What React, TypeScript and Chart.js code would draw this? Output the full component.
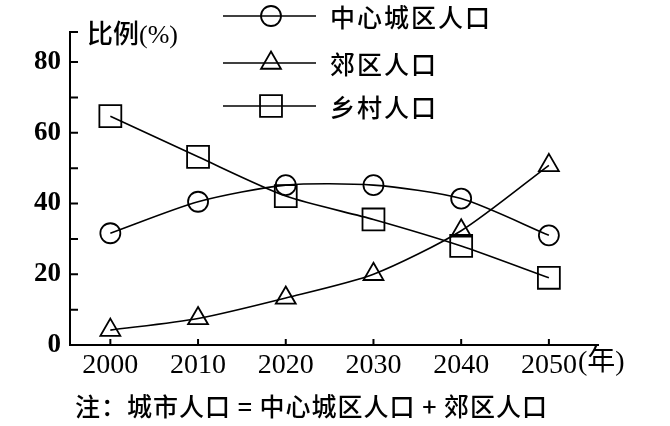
import React, { useEffect, useRef } from 'react';
import { Chart, registerables } from 'chart.js';

Chart.register(...registerables);

// ---- data ----
const years = [2000, 2010, 2020, 2030, 2040, 2050];
const seriesNames = ['中心城区人口', '郊区人口', '乡村人口'];
const centralCity = [31.6, 40.5, 45.2, 45.2, 41.4, 31.0];
const suburbs = [4.2, 7.5, 13.3, 20.0, 32.3, 50.8];
const rural = [64.7, 53.2, 42.1, 35.5, 28.0, 19.0];
const yTicks = [0, 10, 20, 30, 40, 50, 60, 70, 80];
const yLabelStep = 20;
const yTitle = '比例(%)';
const xUnit = '(年)';
const note = '注：城市人口 = 中心城区人口 + 郊区人口';

// ---- styles ----
const pointStyles = ['circle', 'triangle', 'rect'];
const pointRadii = [10, 11.5, 15.5];
const legendRowsY = [16, 63, 106];
const serifCjk = '"Liberation Serif", "Noto Sans CJK SC"';

function drawMarker(ctx: CanvasRenderingContext2D, style: string, r: number, x: number, y: number) {
  ctx.beginPath();
  if (style === 'circle') {
    ctx.arc(x, y, r, 0, Math.PI * 2);
  } else if (style === 'triangle') {
    const h = r * Math.sin(Math.PI / 3);
    ctx.moveTo(x, y - r);
    ctx.lineTo(x + h, y + r / 2);
    ctx.lineTo(x - h, y + r / 2);
    ctx.closePath();
  } else {
    const s = r * Math.SQRT1_2;
    ctx.rect(x - s, y - s, 2 * s, 2 * s);
  }
  ctx.stroke();
}

const decor = {
  id: 'decor',
  afterDraw(chart: any) {
    const ctx: CanvasRenderingContext2D = chart.ctx;
    const { left, top, bottom } = chart.chartArea;
    const xs = chart.scales.x;
    const ys = chart.scales.y;
    ctx.save();
    ctx.strokeStyle = '#000';
    ctx.fillStyle = '#000';
    ctx.lineWidth = 2;
    // inward y ticks
    ctx.beginPath();
    ys.ticks.forEach((t: any) => {
      if (t.value === 0) return;
      const py = ys.getPixelForValue(t.value);
      ctx.moveTo(left, py);
      ctx.lineTo(left + 8, py);
    });
    ctx.moveTo(left, top);
    ctx.lineTo(left + 8, top);
    // inward x ticks
    xs.ticks.forEach((t: any) => {
      const px = xs.getPixelForValue(t.value);
      ctx.moveTo(px, bottom);
      ctx.lineTo(px, bottom - 6);
    });
    ctx.stroke();

    // y title
    ctx.textBaseline = 'middle';
    ctx.textAlign = 'left';
    ctx.font = `500 26px ${serifCjk}`;
    ctx.fillText(yTitle, 87, 36);

    // x unit after last label
    ctx.font = `28px ${serifCjk}`;
    ctx.fillText(xUnit, 578, 363);

    // note
    ctx.font = '500 25px "Noto Sans CJK SC"';
    (ctx as any).letterSpacing = '1px';
    ctx.fillText(note, 75, 406);

    // legend
    chart.data.datasets.forEach((ds: any, i: number) => {
      const y = legendRowsY[i];
      ctx.lineWidth = 1.6;
      ctx.beginPath();
      ctx.moveTo(223, y);
      ctx.lineTo(316, y);
      ctx.stroke();
      ctx.lineWidth = 1.8;
      drawMarker(ctx, ds.pointStyle, ds.pointRadius, 271, y);
      ctx.font = '500 25px "Noto Sans CJK SC"';
      (ctx as any).letterSpacing = '2px';
      ctx.fillText(ds.label, 330, y + 1);
    });
    ctx.restore();
  },
};

export default function App() {
  const ref = useRef<HTMLCanvasElement>(null);
  useEffect(() => {
    document.body.style.margin = '0';
    const series = [centralCity, suburbs, rural];
    const chart = new Chart(ref.current as HTMLCanvasElement, {
      type: 'line',
      data: {
        datasets: series.map((vals, i) => ({
          label: seriesNames[i],
          data: years.map((yr, j) => ({ x: yr, y: vals[j] })),
          borderColor: '#000',
          borderWidth: 1.6,
          tension: 0.25,
          pointStyle: pointStyles[i] as any,
          pointRadius: pointRadii[i],
          pointBorderWidth: 1.8,
          pointBorderColor: '#000',
          pointBackgroundColor: 'rgba(0,0,0,0)',
          fill: false,
        })),
      },
      options: {
        responsive: false,
        devicePixelRatio: 1,
        animation: false,
        layout: { padding: { left: 0, top: 32, right: 72, bottom: 0 } },
        plugins: { legend: { display: false }, tooltip: { enabled: false } },
        scales: {
          x: {
            type: 'linear',
            min: 1995.4,
            max: 2055.6,
            afterBuildTicks: (s: any) => {
              s.ticks = years.map((v) => ({ value: v }));
            },
            afterFit: (s: any) => {
              s.height = 81;
            },
            grid: { display: false, drawTicks: false },
            border: { display: true, color: '#000', width: 2 },
            ticks: {
              color: '#000',
              padding: 4,
              maxRotation: 0,
              font: { family: 'Liberation Serif', size: 28 },
              callback: (v: any) => String(v),
            },
          },
          y: {
            type: 'linear',
            min: 0,
            max: 88.5,
            afterBuildTicks: (s: any) => {
              s.ticks = yTicks.map((v) => ({ value: v }));
            },
            afterFit: (s: any) => {
              s.width = 70;
            },
            grid: { display: false, drawTicks: false },
            border: { display: true, color: '#000', width: 2 },
            ticks: {
              color: '#000',
              padding: 9,
              font: { family: 'Liberation Serif', size: 27, weight: 'bold' },
              callback: (v: any) => (Number(v) % yLabelStep === 0 ? String(v) : ''),
            },
          },
        },
      },
      plugins: [decor],
    });
    return () => chart.destroy();
  }, []);
  return (
    <div style={{ width: 670, height: 426, position: 'relative', background: '#fff' }}>
      <canvas ref={ref} width={670} height={426} style={{ display: 'block' }} />
    </div>
  );
}
